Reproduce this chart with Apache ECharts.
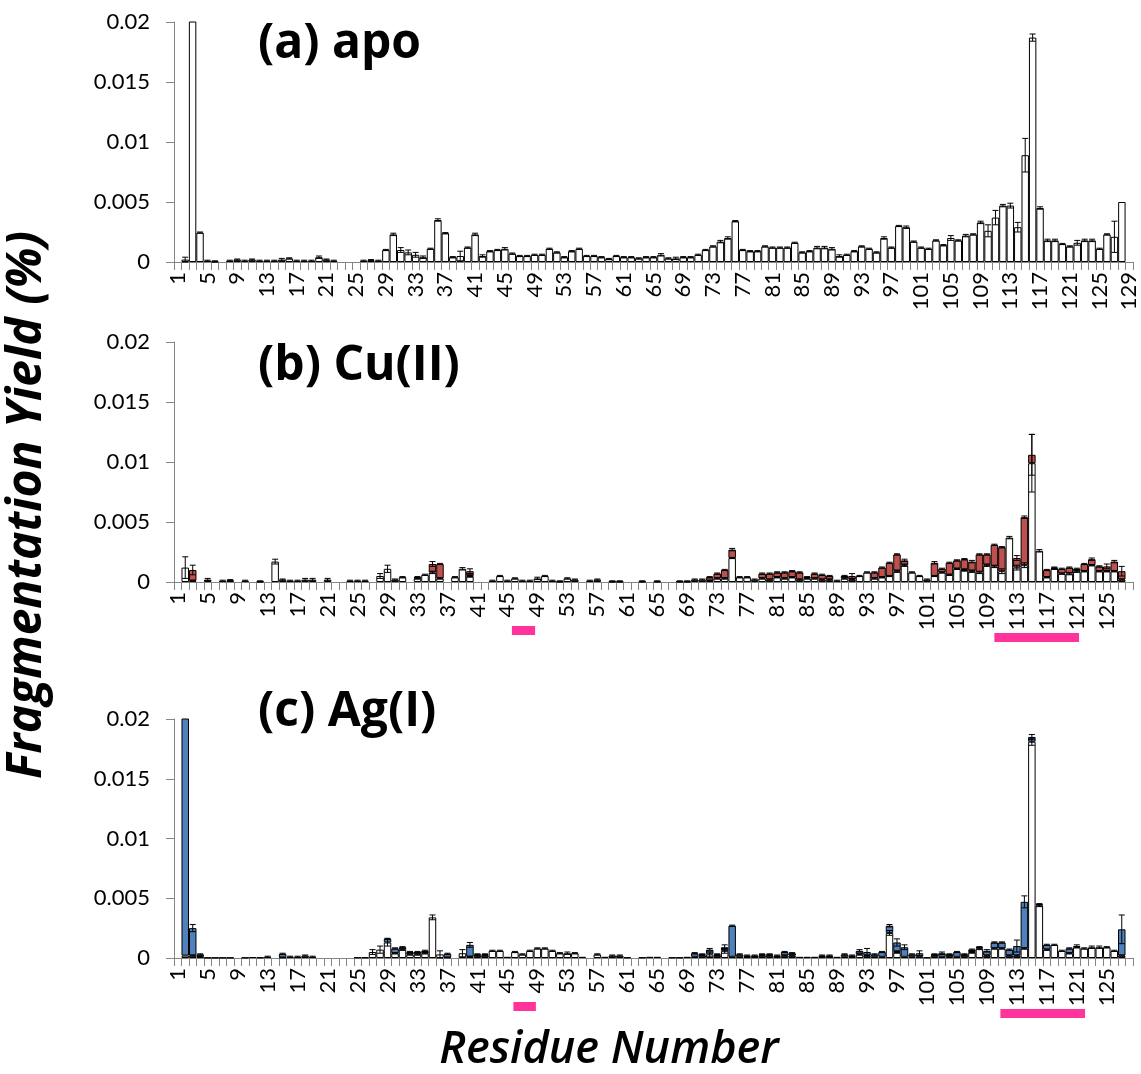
<!DOCTYPE html>
<html>
<head>
<meta charset="utf-8">
<script src="https://cdn.jsdelivr.net/npm/echarts@6/dist/echarts.min.js"></script>
<style>
  html, body { margin: 0; padding: 0; background: #fff; }
  #chart { width: 1141px; height: 1074px; }
</style>
</head>
<body>
<div id="chart"></div>
<script>
// Residue numbers on the x axes
const residuesApo = [];
for (let r = 1; r <= 129; r++) residuesApo.push(String(r));
const residuesMetal = residuesApo.slice(0, 128);

const yTicks = [0, 0.005, 0.01, 0.015, 0.02];

// (a) apo: fragmentation yield per residue (%)
const apo = [
  0, 0.0002, 0.028, 0.00245, 0.0001, 0.00005, 0, 0.0001, 0.0002, 0.0001,
  0.0002, 0.0001, 0.0001, 0.0001, 0.0002, 0.0003, 0.0001, 0.0001, 0.0001, 0.0004,
  0.0002, 0.0001, 0, 0, 0, 0.0001, 0.00015, 0.0001, 0.001, 0.0023,
  0.001, 0.0008, 0.0006, 0.0004, 0.0011, 0.0035, 0.0024, 0.0004, 0.0005, 0.0012,
  0.0023, 0.0005, 0.0009, 0.001, 0.0011, 0.0007, 0.0005, 0.0005, 0.0006, 0.0006,
  0.0011, 0.0008, 0.0004, 0.0009, 0.0011, 0.0005, 0.0005, 0.0004, 0.00025, 0.0005,
  0.0004, 0.0004, 0.0003, 0.0004, 0.0004, 0.0006, 0.0003, 0.0003, 0.0004, 0.0004,
  0.0006, 0.001, 0.0013, 0.0017, 0.002, 0.0034, 0.001, 0.0009, 0.0009, 0.0013,
  0.0012, 0.0012, 0.0012, 0.0016, 0.0008, 0.0009, 0.0012, 0.0012, 0.0011, 0.0005,
  0.0006, 0.0009, 0.0013, 0.0011, 0.0008, 0.002, 0.0012, 0.003, 0.0029, 0.0017,
  0.0012, 0.0011, 0.0018, 0.0014, 0.002, 0.0018, 0.0022, 0.0023, 0.0033, 0.0026,
  0.0037, 0.0047, 0.0047, 0.0029, 0.0089, 0.0187, 0.0045, 0.0018, 0.0018, 0.0015,
  0.0013, 0.0016, 0.0018, 0.0018, 0.0011, 0.0023, 0.0021, 0.005, 0
];
const apoErr = [
  0, 0.0002, 0, 0.00005, 0.00005, 0.00005, 0, 0.00005, 0.00005, 0.00005,
  0.00005, 0.00005, 0.00005, 0.00005, 0.0001, 0.00005, 0.00005, 0.00005, 0.00005, 0.0001,
  0.00005, 0.00005, 0, 0, 0, 0.00005, 0.00005, 0.00005, 0.00005, 0.0001,
  0.0002, 0.0002, 0.0002, 0.0001, 0.00005, 0.0001, 0.00005, 0.00005, 0.0004, 0.00005,
  0.0001, 0.0001, 0.00005, 0.00005, 0.0001, 0.00005, 0.00005, 0.00005, 0.00005, 0.00005,
  0.00005, 0.00005, 0.00005, 0.00005, 0.00005, 0.00005, 0.00005, 0.00005, 0.00005, 0.00005,
  0.00005, 0.00005, 0.00005, 0.00005, 0.00005, 0.0001, 0.00005, 0.0001, 0.00005, 0.00005,
  0.00005, 0.00005, 0.00005, 0.0001, 0.0001, 0.00005, 0.00005, 0.00005, 0.00005, 0.00005,
  0.00005, 0.00005, 0.00005, 0.00005, 0.00005, 0.00005, 0.0001, 0.0001, 0.0001, 0.0001,
  0.00005, 0.00005, 0.00005, 0.00005, 0.00005, 0.0001, 0.00005, 0.00005, 0.0001, 0.00005,
  0.00005, 0.00005, 0.00005, 0.00005, 0.0002, 0.00005, 0.0001, 0.00005, 0.0001, 0.0005,
  0.0006, 0.0001, 0.0002, 0.0004, 0.0014, 0.0003, 0.0001, 0.0001, 0.0001, 0.00005,
  0.00005, 0.0002, 0.0001, 0.0001, 0.00005, 0.00005, 0.0013, 0, 0
];

// (b) Cu(II): unmodified part (white) and Cu-related part (red)
const cuWhite = [
  0, 0.0012, 0.0001, 0, 0, 0, 0.0001, 0.00015, 0, 0.0001,
  0, 0.00005, 0, 0.0017, 0.0002, 0.0001, 0.0001, 0.0002, 0.0002, 0,
  0.0002, 0, 0, 0.0001, 0.0001, 0.0001, 0, 0.0005, 0.0011, 0.0002,
  0.0004, 0, 0.0003, 0.0006, 0.0008, 0.0003, 0, 0.0004, 0.0011, 0.0005,
  0, 0, 0.0001, 0.0005, 0.0001, 0.0003, 0.0001, 0.0001, 0.0003, 0.0005,
  0.0001, 0.00005, 0.0003, 0.0002, 0, 0.0001, 0.0002, 0, 0.00005, 0.00005,
  0, 0, 0.00005, 0, 0.00005, 0, 0, 0.00005, 0.00005, 0.0002,
  0.0002, 0.0001, 0.0003, 0.0003, 0.002, 0.0004, 0.0004, 0.0002, 0.0003, 0.0002,
  0.0004, 0.0003, 0.0004, 0.0002, 0.0003, 0.0003, 0.0002, 0.0002, 0.0001, 0.0003,
  0.0002, 0.0005, 0.0008, 0.0003, 0.0004, 0.0005, 0.0009, 0.0014, 0.0008, 0.0005,
  0.0002, 0.0005, 0.0008, 0.0006, 0.0011, 0.001, 0.0009, 0.0008, 0.0014, 0.0013,
  0.0009, 0.0037, 0.0012, 0.0014, 0.0099, 0.0026, 0.0004, 0.0011, 0.0007, 0.0007,
  0.0009, 0.0009, 0.0014, 0.0009, 0.0009, 0.0009, 0.0002, 0
];
const cuRed = [
  0, 0, 0.0009, 0, 0.0002, 0, 0, 0, 0, 0,
  0, 0, 0, 0, 0, 0, 0, 0, 0, 0,
  0, 0, 0, 0, 0, 0, 0, 0, 0, 0,
  0, 0, 0.0001, 0, 0.0007, 0.0012, 0, 0, 0, 0.0004,
  0, 0, 0, 0, 0, 0, 0, 0, 0, 0,
  0, 0, 0, 0, 0, 0, 0, 0, 0, 0,
  0, 0, 0, 0, 0, 0, 0, 0, 0, 0,
  0, 0.0003, 0.0004, 0.0007, 0.0007, 0, 0, 0, 0.0004, 0.0005,
  0.0004, 0.0005, 0.0005, 0.0006, 0.0001, 0.0004, 0.0004, 0.0003, 0, 0.0002,
  0.0003, 0, 0, 0.0005, 0.0008, 0.0011, 0.0014, 0.0004, 0, 0,
  0, 0.0011, 0.0003, 0.001, 0.0007, 0.0009, 0.0008, 0.0015, 0.0009, 0.0018,
  0.002, 0, 0.0008, 0.004, 0.0007, 0, 0.0006, 0.0001, 0.0004, 0.0005,
  0.0002, 0.0006, 0.0005, 0.0004, 0.0004, 0.0008, 0.0007, 0
];
const cuWhiteErr = [
  0, 0.0009, 0.00005, 0, 0, 0, 0.00005, 0.00005, 0, 0.00005,
  0, 0.00005, 0, 0.0002, 0.00005, 0.00005, 0.00005, 0.0001, 0.0001, 0,
  0.0001, 0, 0, 0.00005, 0.00005, 0.00005, 0, 0.0002, 0.0003, 0.00005,
  0.00005, 0, 0.00005, 0.00005, 0.0001, 0.00005, 0, 0.00005, 0.0001, 0.0001,
  0, 0, 0.00005, 0.00005, 0.00005, 0.00005, 0.00005, 0.00005, 0.0001, 0.00005,
  0.00005, 0.00005, 0.00005, 0.00005, 0.00005, 0.00005, 0.00005, 0.00005, 0.00005, 0.00005,
  0.00005, 0.00005, 0.00005, 0.00005, 0.00005, 0.00005, 0.00005, 0.00005, 0.00005, 0.00005,
  0.00005, 0.00005, 0.00005, 0.00005, 0.00005, 0.00005, 0.00005, 0.00005, 0.00005, 0.00005,
  0.00005, 0.00005, 0.00005, 0.00005, 0.00005, 0.00005, 0.00005, 0.00005, 0.00005, 0.00005,
  0.00005, 0.00005, 0.00005, 0.00005, 0.00005, 0.00005, 0.0001, 0.0001, 0.00005, 0.00005,
  0.00005, 0.00005, 0.00005, 0.00005, 0.00005, 0.0001, 0.0001, 0.0001, 0.0001, 0.0001,
  0.0002, 0.0001, 0.0002, 0.0002, 0.0024, 0.0001, 0.00005, 0.00005, 0.00005, 0.0001,
  0.0001, 0.00005, 0.00005, 0.00005, 0.00005, 0.00005, 0.00005, 0
];
const cuRedErr = [
  0, 0, 0.0004, 0, 0.0001, 0, 0, 0, 0, 0,
  0, 0, 0, 0, 0, 0, 0, 0, 0, 0,
  0, 0, 0, 0, 0, 0, 0, 0, 0, 0,
  0, 0, 0.00005, 0, 0.0002, 0.00005, 0, 0, 0, 0.0002,
  0, 0, 0, 0, 0, 0, 0, 0, 0, 0,
  0, 0, 0, 0, 0, 0, 0, 0, 0, 0,
  0, 0, 0, 0, 0, 0, 0, 0, 0, 0,
  0, 0.00005, 0.00005, 0.00005, 0.0001, 0, 0, 0, 0.00005, 0.00005,
  0.00005, 0.00005, 0.00005, 0.00005, 0.00005, 0.00005, 0.00005, 0.00005, 0, 0.00005,
  0.0002, 0, 0, 0.00005, 0.00005, 0.00005, 0.00005, 0.0001, 0, 0,
  0, 0.0001, 0.00005, 0.00005, 0.00005, 0.00005, 0.0001, 0.00005, 0.00005, 0.00005,
  0.00005, 0, 0.0002, 0.0001, 0.0017, 0, 0.00005, 0.00005, 0.00005, 0.00005,
  0.00005, 0.00005, 0.0001, 0.00005, 0.0002, 0.0001, 0.0004, 0
];

// (c) Ag(I): unmodified part (white) and Ag-related part (blue)
const agWhite = [
  0, 0.0002, 0.0002, 0.0001, 0.00003, 0.00003, 0.00003, 0.00003, 0, 0.00003,
  0.00008, 0.00005, 0.0001, 0, 0.00005, 0.0001, 0.0001, 0.0002, 0.0001, 0,
  0, 0, 0, 0, 0.00005, 0.00005, 0.0005, 0.0007, 0.0013, 0.0004,
  0.0007, 0.0003, 0.0003, 0.0004, 0.0034, 0.0003, 0.00005, 0, 0.0004, 0.0001,
  0.0002, 0.0002, 0.0006, 0.0006, 0.0001, 0.0005, 0.0003, 0.0006, 0.0008, 0.0008,
  0.0006, 0.0004, 0.0004, 0.0004, 0.0001, 0, 0.0003, 0.0001, 0.0002, 0.0002,
  0.00005, 0, 0.00005, 0.0001, 0.0001, 0, 0.00005, 0.00005, 0.0001, 0.0001,
  0.0002, 0.0003, 0.0002, 0.0006, 0.0001, 0.0001, 0.0001, 0.0001, 0.0002, 0.0002,
  0.0001, 0.0002, 0.0002, 0.0001, 0.0001, 0.0001, 0.0001, 0.0001, 0.0001, 0.0001,
  0.0001, 0.0003, 0.0002, 0.0001, 0.0001, 0.0021, 0.0005, 0.0001, 0.0001, 0.0001,
  0.00005, 0.0002, 0.0001, 0.0002, 0.0001, 0.0002, 0.0005, 0.0008, 0.0002, 0.0008,
  0.0008, 0.0002, 0.0002, 0.0008, 0.0181, 0.0044, 0.0007, 0.0011, 0.0006, 0.0004,
  0.0009, 0.0008, 0.0009, 0.0009, 0.0009, 0.0006, 0.0002, 0
];
const agBlue = [
  0, 0.03, 0.0023, 0.0002, 0, 0, 0, 0, 0, 0,
  0, 0, 0, 0, 0.0003, 0, 0, 0, 0, 0,
  0, 0, 0, 0, 0, 0, 0, 0, 0.0003, 0.0004,
  0.0002, 0.0002, 0.0002, 0.0002, 0, 0, 0.0003, 0, 0, 0.001,
  0.0001, 0.0001, 0, 0, 0, 0, 0, 0, 0, 0,
  0, 0, 0, 0, 0, 0, 0, 0, 0, 0,
  0, 0, 0, 0, 0, 0, 0, 0, 0, 0.0003,
  0.0001, 0.0004, 0.0001, 0.0003, 0.0026, 0.0002, 0.0001, 0.0001, 0.0001, 0.0001,
  0.0001, 0.0003, 0.0002, 0, 0, 0, 0.0001, 0.0001, 0, 0.0002,
  0.0001, 0.0003, 0.0003, 0.0002, 0.0004, 0.0006, 0.0008, 0.0008, 0.0002, 0.0003,
  0, 0.0001, 0.0003, 0.0001, 0.0004, 0.0001, 0.0002, 0.0001, 0.0004, 0.0005,
  0.0005, 0.0005, 0.0008, 0.0039, 0.0004, 0.0001, 0.0004, 0, 0, 0.0004,
  0.0001, 0, 0, 0, 0, 0, 0.0022, 0
];
const agWhiteErr = [
  0, 0, 0.00005, 0.00005, 0, 0, 0, 0, 0, 0,
  0, 0, 0.00005, 0, 0, 0.00005, 0.00005, 0.00005, 0.00005, 0,
  0, 0, 0, 0, 0, 0, 0.0002, 0.0003, 0.0003, 0.00005,
  0.00005, 0.00005, 0.00005, 0.00005, 0.0002, 0.0003, 0, 0, 0.0003, 0.00005,
  0.00005, 0.00005, 0.00005, 0.00005, 0, 0.00005, 0.00005, 0.00005, 0.00005, 0.00005,
  0.00005, 0.00005, 0.0001, 0.00005, 0, 0, 0.00005, 0, 0.00005, 0.00005,
  0, 0, 0, 0, 0, 0, 0, 0, 0, 0,
  0.00005, 0.0002, 0.00005, 0.0002, 0, 0, 0, 0, 0.00005, 0.00005,
  0, 0.00005, 0.00005, 0, 0, 0, 0, 0, 0, 0,
  0, 0.00005, 0.00005, 0, 0, 0.0002, 0.0001, 0, 0, 0,
  0, 0.00005, 0, 0.00005, 0, 0.00005, 0.0001, 0.0001, 0.00005, 0.00005,
  0.00005, 0.00005, 0.00005, 0.00005, 0.0003, 0.0001, 0.00005, 0.00005, 0.00005, 0.00005,
  0.00005, 0.00005, 0.0001, 0.0001, 0.00005, 0.00005, 0.00005, 0
];
const agBlueErr = [
  0, 0, 0.0003, 0.00005, 0, 0, 0, 0, 0, 0,
  0, 0, 0, 0, 0.00005, 0, 0, 0, 0, 0,
  0, 0, 0, 0, 0, 0, 0, 0, 0.00005, 0.00005,
  0.00005, 0.00005, 0.00005, 0.00005, 0, 0, 0.00005, 0, 0, 0.0002,
  0.00005, 0.00005, 0, 0, 0, 0, 0, 0, 0, 0,
  0, 0, 0, 0, 0, 0, 0, 0, 0, 0,
  0, 0, 0, 0, 0, 0, 0, 0, 0, 0.00005,
  0.00005, 0.0001, 0.00005, 0.0002, 0.00005, 0.00005, 0.00005, 0.00005, 0.00005, 0.00005,
  0.00005, 0.00005, 0.00005, 0, 0, 0, 0.00005, 0.00005, 0, 0.00005,
  0.00005, 0.0001, 0.0003, 0.00005, 0.00005, 0.0001, 0.0003, 0.0002, 0.00005, 0.0002,
  0, 0.00005, 0.0001, 0.00005, 0.00005, 0.00005, 0.00005, 0.00005, 0.0001, 0.00005,
  0.00005, 0.00005, 0.0005, 0.0005, 0.0002, 0.00005, 0.00005, 0, 0, 0.00005,
  0.0001, 0, 0, 0, 0, 0, 0.0012, 0
];

// Highlighted residue stretches (pink bars under the metal panels), in residue units
const metalSitesCu = [[45.1, 48.2], [109.5, 120.8]];
const metalSitesAg = [[45.3, 48.3], [110.3, 121.6]];

// ---- layout & styling ----
const FONT = 'Lato';
const TITLE_FONT = 'Open Sans';
const AXIS_GREY = '#868686';
const RED = '#C0504D';
const BLUE = '#4F81BD';
const PINK = '#FF3399';
const gridBoxes = [
  { left: 174, top: 22, width: 959, height: 240 },
  { left: 174, top: 342, width: 959, height: 240 },
  { left: 174, top: 719, width: 959, height: 239 }
];
// distance of each pink bar below the axis (clears the rotated tick labels)
const siteGap = [44, 51];

function gapless(v) { return v === 0 ? '-' : v; }

function xAxisFor(gi, cats) {
  return {
    type: 'category', gridIndex: gi, data: cats, boundaryGap: true,
    axisLine: { show: true, lineStyle: { color: AXIS_GREY, width: 1 } },
    axisTick: { show: true, interval: 0, length: 8, lineStyle: { color: AXIS_GREY } },
    axisLabel: { interval: 3, rotate: 90, color: '#000', fontFamily: FONT, fontSize: 22, margin: 10 },
    splitLine: { show: false }
  };
}
function yAxisFor(gi) {
  return {
    type: 'value', gridIndex: gi, min: yTicks[0], max: yTicks[yTicks.length - 1], interval: 0.005,
    axisLine: { show: true, lineStyle: { color: AXIS_GREY, width: 1 } },
    axisTick: { show: true, length: 8, lineStyle: { color: AXIS_GREY } },
    axisLabel: { color: '#000', fontFamily: FONT, fontSize: 22, margin: 24 },
    splitLine: { show: false }
  };
}
function barSeries(gi, values, color, stack) {
  return {
    type: 'bar', xAxisIndex: gi, yAxisIndex: gi, stack: stack,
    data: values.map(gapless),
    barCategoryGap: '0%', barGap: '0%',
    itemStyle: { color: color, borderColor: '#000', borderWidth: 1 },
    clip: true, z: 2, silent: true
  };
}
function errorPoints(base, seg, err) {
  const pts = [];
  seg.forEach(function (v, i) {
    if (v > 0 && err[i] > 0) pts.push([i, (base ? base[i] : 0) + v, err[i]]);
  });
  return pts;
}
function renderError(params, api) {
  const i = api.value(0), top = api.value(1), e = api.value(2);
  const hi = api.coord([i, top + e]);
  const lo = api.coord([i, Math.max(0, top - e)]);
  const cap = 3;
  const st = { stroke: '#000', lineWidth: 1 };
  return {
    type: 'group', children: [
      { type: 'line', shape: { x1: hi[0], y1: hi[1], x2: lo[0], y2: lo[1] }, style: st },
      { type: 'line', shape: { x1: hi[0] - cap, y1: hi[1], x2: hi[0] + cap, y2: hi[1] }, style: st },
      { type: 'line', shape: { x1: lo[0] - cap, y1: lo[1], x2: lo[0] + cap, y2: lo[1] }, style: st }
    ]
  };
}
function errorSeries(gi, pts) {
  return { type: 'custom', xAxisIndex: gi, yAxisIndex: gi, data: pts, renderItem: renderError,
           encode: { x: 0, y: 1 }, z: 6, silent: true };
}
function renderSite(params, api) {
  const from = api.value(1), to = api.value(2);
  const origin = api.coord([0, 0]);
  const band = api.size([1, 0])[0];
  const x0 = origin[0] - band / 2;
  return {
    type: 'rect',
    shape: { x: x0 + from * band, y: origin[1] + siteGap[params.dataIndex], width: (to - from) * band, height: 9 },
    style: { fill: PINK }
  };
}
function siteSeries(gi, sites) {
  return { type: 'custom', xAxisIndex: gi, yAxisIndex: gi,
           data: sites.map(function (s) { return [0, s[0], s[1]]; }),
           dimensions: ['slot', 'from', 'to'], encode: { x: 0 },
           renderItem: renderSite, z: 6, silent: true };
}
function panelTitle(text, y) {
  return { type: 'text', x: 258, y: y,
           style: { text: text, fontFamily: TITLE_FONT, fontWeight: 'bold', fontSize: 48, fill: '#000',
                    align: 'left', verticalAlign: 'middle' } };
}

const chart = echarts.init(document.getElementById('chart'), null, { renderer: 'canvas' });
chart.setOption({
  animation: false,
  backgroundColor: '#fff',
  grid: gridBoxes.map(function (g) {
    return Object.assign({ containLabel: false, outerBoundsMode: 'none' }, g);
  }),
  xAxis: [xAxisFor(0, residuesApo), xAxisFor(1, residuesMetal), xAxisFor(2, residuesMetal)],
  yAxis: [yAxisFor(0), yAxisFor(1), yAxisFor(2)],
  series: [
    barSeries(0, apo, '#fff'),
    errorSeries(0, errorPoints(null, apo, apoErr)),

    barSeries(1, cuWhite, '#fff', 'cu'),
    barSeries(1, cuRed, RED, 'cu'),
    errorSeries(1, errorPoints(null, cuWhite, cuWhiteErr).concat(errorPoints(cuWhite, cuRed, cuRedErr))),
    siteSeries(1, metalSitesCu),

    barSeries(2, agWhite, '#fff', 'ag'),
    barSeries(2, agBlue, BLUE, 'ag'),
    errorSeries(2, errorPoints(null, agWhite, agWhiteErr).concat(errorPoints(agWhite, agBlue, agBlueErr))),
    siteSeries(2, metalSitesAg)
  ],
  graphic: [
    panelTitle('(a) apo', 44),
    panelTitle('(b) Cu(II)', 366),
    panelTitle('(c) Ag(I)', 712),
    { type: 'text', x: 27, y: 505, rotation: Math.PI / 2,
      style: { text: 'Fragmentation Yield (%)', fontFamily: TITLE_FONT, fontWeight: 'bold', fontStyle: 'italic',
               fontSize: 48, fill: '#000', align: 'center', verticalAlign: 'middle' } },
    { type: 'text', x: 609, y: 1050,
      style: { text: 'Residue Number', fontFamily: TITLE_FONT, fontWeight: 600, fontStyle: 'italic',
               fontSize: 45, fill: '#000', align: 'center', verticalAlign: 'middle' } }
  ]
});
</script>
</body>
</html>
